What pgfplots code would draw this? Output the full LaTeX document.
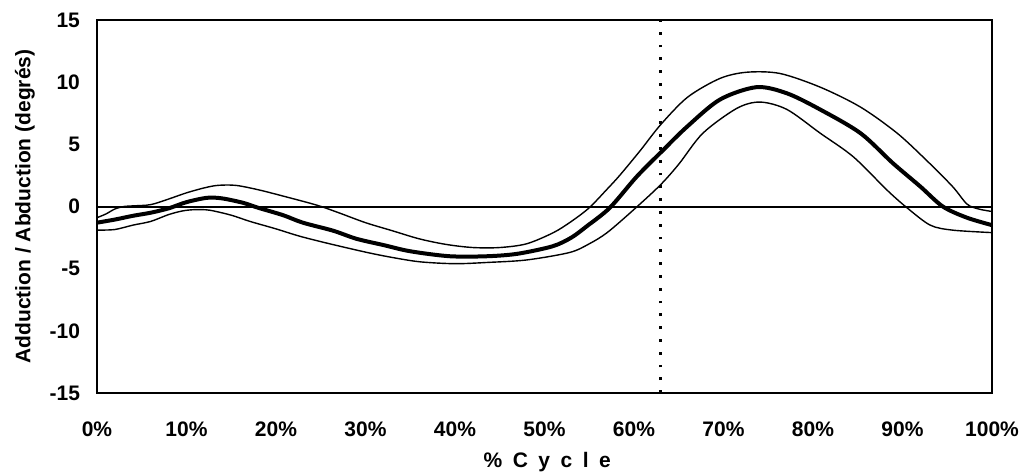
\documentclass[border=0pt]{standalone}
\usepackage{pgfplots}
\pgfplotsset{compat=1.18}
\usepackage{fontspec}
\setmainfont{Liberation Sans}
\newcommand{\gap}{\hspace{0.5em}}
\begin{document}
\begin{tikzpicture}
\begin{axis}[
  scale only axis,
  width=447.5pt, height=186.5pt,
  xmin=0, xmax=100, ymin=-15, ymax=15,
  xtick={0,10,...,100},
  xticklabels={0\%,10\%,20\%,30\%,40\%,50\%,60\%,70\%,80\%,90\%,100\%},
  ytick={-15,-10,...,15},
  yticklabels={-15,-10,-5,0,5,10,15},
  /pgf/number format/assume math mode=true,
  major tick length=0pt,
  axis line style={line width=1.2pt},
  font=\fontsize{10.5}{12}\selectfont\bfseries,
  xticklabel shift=11pt,
  yticklabel shift=5pt,
  xlabel={\%\gap C\gap y\gap c\gap l\gap e},
  ylabel={Adduction / Abduction (degrés)},
  xlabel style={at={(axis description cs:0.503,-0.185)}, anchor=center},
  ylabel style={at={(axis description cs:-0.0805,0.5)}, anchor=center},
  clip=false,
]
% zero reference line
\addplot[black, line width=1pt] coordinates {(0,0) (100,0)};
% end of stance phase
\addplot[black, line width=1.4pt, dash pattern=on 1.4pt off 5pt] coordinates {(63,-15) (63,15)};
% mean + 1 SD
\addplot[black, line width=0.7pt, smooth] coordinates {
(0,-0.9) (1,-0.6) (2,-0.2) (3,0.0) (4,0.05) (6,0.15) (8,0.6) (10,1.1) (12,1.5)
(13.5,1.7) (15.5,1.7) (18,1.35) (21,0.8) (24.6,0.1) (27,-0.5) (30,-1.3) (33,-1.95)
(36,-2.6) (39,-3.05) (42,-3.3) (45,-3.3) (48,-3.0) (51,-2.1) (53,-1.2) (55,-0.1)
(57,1.4) (58.4,2.5) (60.7,4.5) (63,6.6) (66,8.8) (69.6,10.3) (72.6,10.8) (76.3,10.7)
(80.8,9.6) (85.3,8.0) (89.4,5.9) (92.7,3.7) (95.6,1.6) (97.2,0.2) (98.5,-0.2) (100,-0.4)};
% mean
\addplot[black, line width=2pt, smooth] coordinates {
(0,-1.3) (2,-1.05) (4,-0.75) (6,-0.5) (8,-0.15) (10,0.35) (12.3,0.7) (14,0.65)
(16.3,0.3) (18,-0.1) (20.8,-0.7) (23,-1.3) (26.4,-1.95) (29,-2.6) (32,-3.1) (35,-3.6)
(39.4,-4.0) (43.6,-4.0) (47,-3.8) (50.9,-3.2) (53,-2.5) (54.7,-1.6) (57.3,-0.1)
(60.3,2.4) (63.2,4.5) (65.9,6.4) (69.6,8.6) (73.7,9.6) (77.1,9.1) (80.8,7.8)
(85.3,5.9) (88.9,3.5) (92,1.6) (94.5,0) (97.2,-0.9) (100,-1.5)};
% mean - 1 SD
\addplot[black, line width=0.7pt, smooth] coordinates {
(0,-1.9) (2,-1.85) (4,-1.5) (6,-1.2) (8,-0.65) (9.6,-0.35) (11,-0.25) (12.6,-0.3)
(15,-0.7) (17.1,-1.2) (20,-1.8) (22.7,-2.4) (26,-3.0) (30.2,-3.7) (33,-4.1)
(36.1,-4.45) (40,-4.6) (43.6,-4.5) (48,-4.3) (52.8,-3.7) (55,-3.0) (57,-2.1)
(59.9,-0.3) (62.9,1.7) (65,3.4) (67.7,5.9) (71.5,7.9) (74.1,8.4) (77.1,7.8)
(80.8,5.9) (84.5,4.0) (88.3,1.3) (90.5,-0.1) (93.1,-1.5) (95.6,-1.9) (100,-2.1)};
\coordinate (bl) at (rel axis cs:0,0);
\coordinate (tr) at (rel axis cs:1,1);
\end{axis}
\pgfresetboundingbox
\path[use as bounding box] ([shift={(-48.5pt,-39.5pt)}]bl) rectangle ([shift={(15.5pt,10pt)}]tr);
\end{tikzpicture}
\end{document}
